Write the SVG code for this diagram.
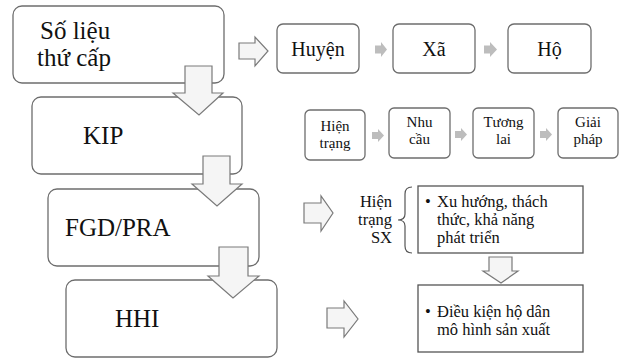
<svg xmlns="http://www.w3.org/2000/svg" width="626" height="359" viewBox="0 0 626 359">
<style>
.box{fill:#fff;stroke:#6d6d6d;stroke-width:1.3}
.sq{fill:#fff;stroke:#555;stroke-width:1.3}
.barrow{fill:#f5f5f5;stroke:#7a7a7a;stroke-width:1.2}
.sarrow{fill:#bdbdbd;stroke:none}
.big{font-size:25px}
.mid{font-size:20px}
.sm{font-size:15px}
.tx{font-size:16.5px}
</style>
<rect width="626" height="359" fill="#fff"/>
<g style="font-family:'Liberation Serif','Times New Roman',Times,'DejaVu Serif',serif" fill="#111">
<g id="n-solieu"><rect class="box" x="13" y="6" width="211" height="77" rx="9"/>
<text class="big" x="40" y="39">Số liệu</text><text class="big" x="37" y="66">thứ cấp</text></g>
<g id="n-kip"><rect class="box" x="32" y="97" width="210" height="77" rx="9"/>
<text class="big" x="83" y="144">KIP</text></g>
<g id="n-fgd"><rect class="box" x="48" y="189" width="211" height="77" rx="9"/>
<text class="big" x="65" y="236">FGD/PRA</text></g>
<g id="n-hhi"><rect class="box" x="66" y="280" width="211" height="77" rx="9"/>
<text class="big" x="115" y="327">HHI</text></g>
<g id="n-huyen"><rect class="box" x="277" y="24" width="82" height="49" rx="6"/>
<text class="mid" x="318" y="56" text-anchor="middle">Huyện</text></g>
<g id="n-xa"><rect class="box" x="393" y="24" width="82" height="49" rx="6"/>
<text class="mid" x="434" y="56" text-anchor="middle">Xã</text></g>
<g id="n-ho"><rect class="box" x="508" y="24" width="83" height="49" rx="6"/>
<text class="mid" x="549.5" y="56" text-anchor="middle">Hộ</text></g>
<g id="n-hientrang"><rect class="box" x="305" y="110" width="60" height="50" rx="5"/>
<text class="sm" x="335" y="131" text-anchor="middle">Hiện</text><text class="sm" x="335" y="148" text-anchor="middle">trạng</text></g>
<g id="n-nhucau"><rect class="box" x="389" y="108" width="61" height="50" rx="5"/>
<text class="sm" x="419.5" y="127" text-anchor="middle">Nhu</text><text class="sm" x="419.5" y="144" text-anchor="middle">cầu</text></g>
<g id="n-tuonglai"><rect class="box" x="473" y="108" width="61" height="50" rx="5"/>
<text class="sm" x="503.5" y="127" text-anchor="middle">Tương</text><text class="sm" x="503.5" y="144" text-anchor="middle">lai</text></g>
<g id="n-giaiphap"><rect class="box" x="558" y="108" width="60" height="50" rx="5"/>
<text class="sm" x="588" y="127" text-anchor="middle">Giải</text><text class="sm" x="588" y="144" text-anchor="middle">pháp</text></g>
<g id="n-hientrangsx">
<text class="tx" x="392" y="207" text-anchor="end">Hiện</text><text class="tx" x="392" y="225" text-anchor="end">trạng</text><text class="tx" x="392" y="243" text-anchor="end">SX</text>
<path d="M412,187 Q405,187 405,194 L405,214 Q405,220 398,220 Q405,220 405,226 L405,246 Q405,253 412,253" fill="none" stroke="#555" stroke-width="1.2"/></g>
<g id="n-xuhuong"><rect class="sq" x="418" y="186" width="165" height="67"/>
<text class="tx" x="425" y="207">•</text><text class="tx" x="437" y="207">Xu hướng, thách</text><text class="tx" x="437" y="225">thức, khả năng</text><text class="tx" x="437" y="243">phát triển</text></g>
<g id="n-dieukien"><rect class="sq" x="418" y="285" width="165" height="67"/>
<text class="tx" x="425" y="317">•</text><text class="tx" x="437" y="317">Điều kiện hộ dân</text><text class="tx" x="437" y="335">mô hình sản xuất</text></g>
</g>
<g id="connectors">
<path class="barrow" d="M185,66 L212,66 L212,93 L223,93 L199,115 L173,93 L185,93 Z"/>
<path class="barrow" d="M203,156 L230,156 L230,184 L242,184 L217,206 L192,184 L203,184 Z"/>
<path class="barrow" d="M219,247 L248,247 L248,276 L259,276 L233,298 L208,276 L219,276 Z"/>
<path class="barrow" d="M239,43 L255,43 L255,37 L268,51 L255,66 L255,59 L239,59 Z"/>
<path class="barrow" d="M304,203 L321,203 L321,196 L333,213 L321,231 L321,223 L304,223 Z"/>
<path class="barrow" d="M327,308 L344,308 L344,301 L358,319 L344,337 L344,328 L327,328 Z"/>
<path class="barrow" d="M489,257 L512,257 L512,271 L518,271 L501,283 L483,271 L489,271 Z"/>
<path class="sarrow" d="M375,45.5 L381,45.5 L381,42 L387,49.5 L381,57 L381,53.5 L375,53.5 Z"/>
<path class="sarrow" d="M484,45.5 L490,45.5 L490,42 L497,49.5 L490,57 L490,53.5 L484,53.5 Z"/>
<path class="sarrow" d="M372,132 L378,132 L378,129 L384,135.5 L378,142 L378,139 L372,139 Z"/>
<path class="sarrow" d="M455,131 L461,131 L461,128 L467,134.5 L461,141 L461,138 L455,138 Z"/>
<path class="sarrow" d="M540,131 L546,131 L546,128 L552,134.5 L546,141 L546,138 L540,138 Z"/>
</g>
</svg>
